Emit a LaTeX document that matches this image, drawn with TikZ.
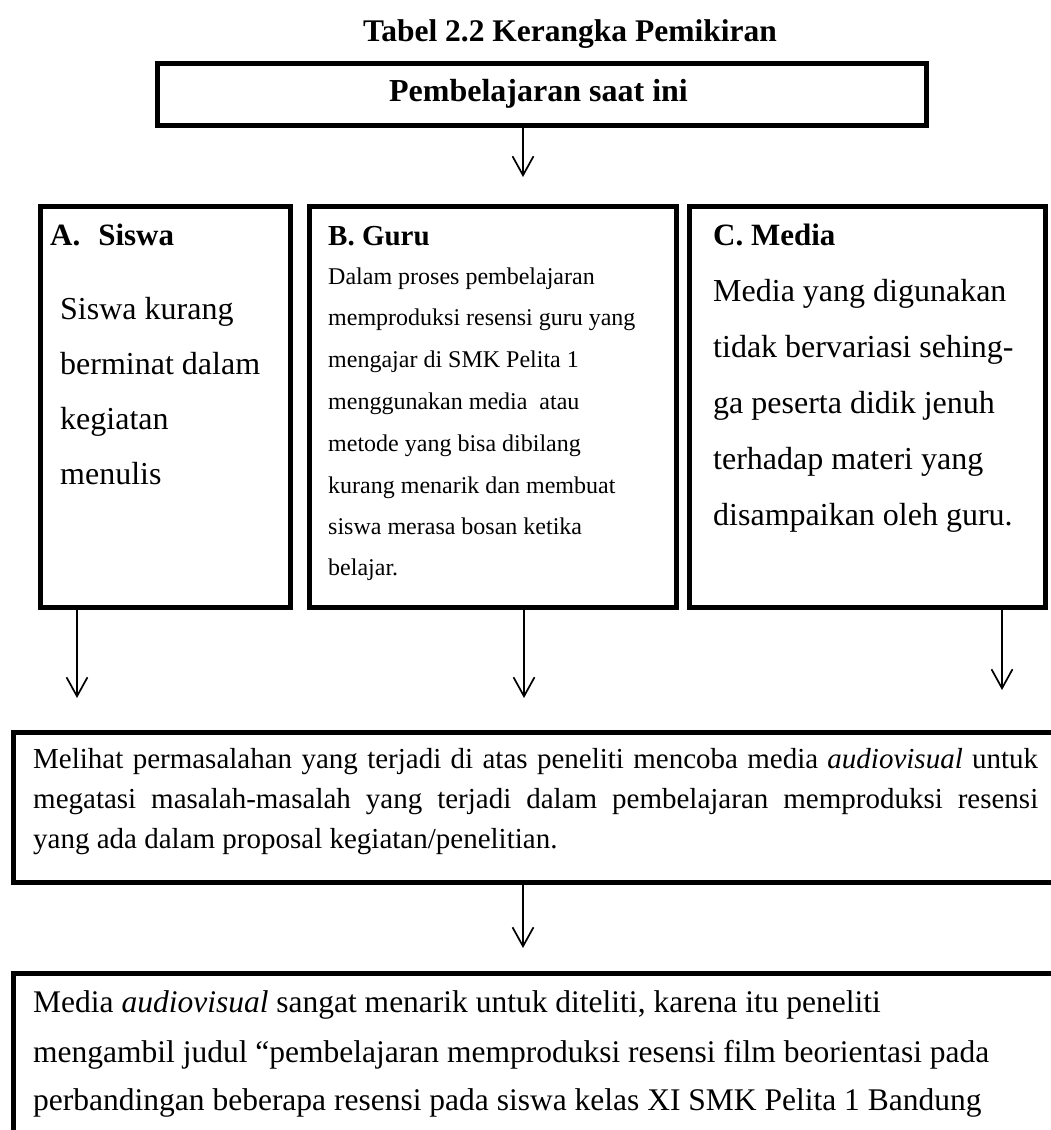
\documentclass[tikz,border=0pt]{standalone}
\usepackage{fontspec}
\setmainfont{Liberation Serif}
\usetikzlibrary{arrows.meta}
\begin{document}
\begin{tikzpicture}[x=1pt,y=-1pt,
  box/.style={draw, line width=5pt, inner sep=0pt, anchor=north west},
  txt/.style={inner sep=0pt, anchor=base west},
  arr/.style={line width=1.7pt, -{Straight Barb[length=19pt,width=21pt]}},
  hd/.style={txt, font=\fontsize{31}{31}\selectfont\bfseries},
  bigt/.style={txt, font=\fontsize{32}{32}\selectfont},
  smt/.style={txt, font=\fontsize{24}{24}\selectfont},
  midt/.style={txt, font=\fontsize{29}{29}\selectfont},
  bott/.style={txt, font=\fontsize{31.5}{31.5}\selectfont},
]
\useasboundingbox (0,0) rectangle (1051,1130);
\clip (0,0) rectangle (1051,1130);
\fill[white] (0,0) rectangle (1051,1130);

% title
\node[inner sep=0pt, anchor=base, font=\fontsize{31.5}{31.5}\selectfont\bfseries] (title) at (570,41) {Tabel 2.2 Kerangka Pemikiran};

% top box
\node[box, minimum width=769pt, minimum height=62pt] (top) at (154.5,60.5) {};
\node[inner sep=0pt, anchor=base, font=\fontsize{32}{32}\selectfont\bfseries] (toptxt) at (538.5,101) {Pembelajaran saat ini};

% three boxes
\node[box, minimum width=250pt, minimum height=401pt] (boxA) at (37.5,203.5) {};
\node[box, minimum width=367pt, minimum height=401pt] (boxB) at (306.5,203.5) {};
\node[box, minimum width=356pt, minimum height=401pt] (boxC) at (686.5,203.5) {};

% A text
\node[hd] (hA) at (50,245) {A.\hspace{18pt}Siswa};
\node[bigt] (a1) at (60,319) {Siswa kurang};
\node[bigt] (a2) at (60,374) {berminat dalam};
\node[bigt] (a3) at (60,429) {kegiatan};
\node[bigt] (a4) at (60,484) {menulis};

% B text
\node[hd, font=\fontsize{29}{29}\selectfont\bfseries] (hB) at (328,245) {B. Guru};
\node[smt] (b1) at (328,284) {Dalam proses pembelajaran};
\node[smt] (b2) at (328,325) {memproduksi resensi guru yang};
\node[smt] (b3) at (328,367) {mengajar di SMK Pelita 1};
\node[smt] (b4) at (328,409) {menggunakan media\ \ atau};
\node[smt] (b5) at (328,451) {metode yang bisa dibilang};
\node[smt] (b6) at (328,493) {kurang menarik dan membuat};
\node[smt] (b7) at (328,534) {siswa merasa bosan ketika};
\node[smt] (b8) at (328,575) {belajar.};

% C text
\node[hd] (hC) at (713,245) {C. Media};
\node[bigt] (c1) at (713,301) {Media yang digunakan};
\node[bigt] (c2) at (713,357) {tidak bervariasi sehing-};
\node[bigt] (c3) at (713,413) {ga peserta didik jenuh};
\node[bigt] (c4) at (713,469) {terhadap materi yang};
\node[bigt] (c5) at (713,525) {disampaikan oleh guru.};

% middle box
\node[box, minimum width=1070pt, minimum height=150pt] (mid) at (10.5,729.5) {};
\node[midt] (m1) at (33,768) {\makebox[1005pt][s]{Melihat permasalahan yang terjadi di atas peneliti mencoba media \textit{audiovisual} untuk}};
\node[midt] (m2) at (33,808) {\makebox[1005pt][s]{megatasi masalah-masalah yang terjadi dalam pembelajaran memproduksi resensi}};
\node[midt] (m3) at (33,848) {yang ada dalam proposal kegiatan/penelitian.};

% bottom box
\node[box, minimum width=1070pt, minimum height=200pt] (bot) at (10.5,970.5) {};
\node[bott] (r1) at (33,1012) {Media \textit{audiovisual} sangat menarik untuk diteliti, karena itu peneliti};
\node[bott] (r2) at (33,1062) {mengambil judul “pembelajaran memproduksi resensi film beorientasi pada};
\node[bott] (r3) at (33,1110) {perbandingan beberapa resensi pada siswa kelas XI SMK Pelita 1 Bandung};

% arrow end points
\coordinate (tTop) at (523,177);
\coordinate (tA) at (77,698);
\coordinate (tB) at (524,698);
\coordinate (tC) at (1002,690);
\coordinate (tM) at (523,948);

\draw[arr] (tTop |- top.south) -- (tTop);
\draw[arr] (tA |- boxA.south) -- (tA);
\draw[arr] (tB |- boxB.south) -- (tB);
\draw[arr] (tC |- boxC.south) -- (tC);
\draw[arr] (tM |- mid.south) -- (tM);
\end{tikzpicture}
\end{document}
